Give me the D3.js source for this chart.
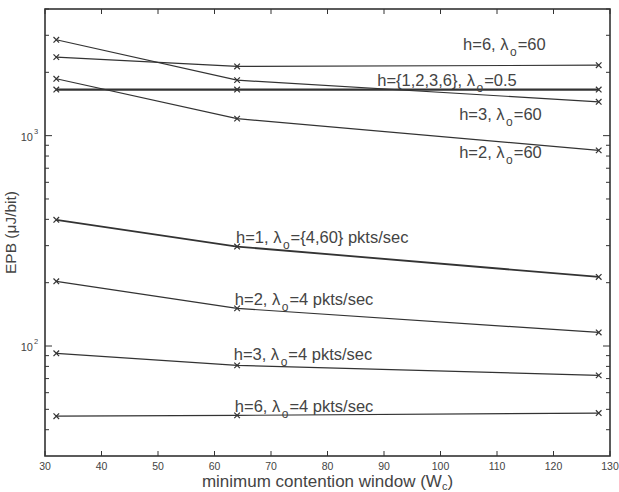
<!DOCTYPE html>
<html><head><meta charset="utf-8">
<script src="https://cdn.jsdelivr.net/npm/d3@7"></script>
<style>body{margin:0;background:#fff}svg{display:block}text{font-family:"Liberation Sans",Arial,sans-serif;fill:#444}</style>
</head><body><div id="chart"></div>
<script>
const xValues = [32, 64, 128];
const series = [
  {h: "h=3", lam: "=60", values: [2856, 1836, 1448], width: 1.2},
  {h: "h=6", lam: "=60", values: [2362, 2133, 2163], width: 1.2},
  {h: "h=2", lam: "=60", values: [1864, 1205, 851], width: 1.2},
  {h: "h={1,2,3,6}", lam: "=0.5", values: [1656, 1656, 1656], width: 2.2},
  {h: "h=1", lam: "={4,60} pkts/sec", values: [398, 297, 213], width: 1.8},
  {h: "h=2", lam: "=4 pkts/sec", values: [203, 151, 116], width: 1.2},
  {h: "h=3", lam: "=4 pkts/sec", values: [92.3, 80.9, 72.5], width: 1.2},
  {h: "h=6", lam: "=4 pkts/sec", values: [46.4, 46.8, 48], width: 1.2}
];
const labels = [
  {s: 1, x: 104.0, y: 2541},
  {s: 3, x: 88.8, y: 1730},
  {s: 0, x: 103.3, y: 1183},
  {s: 2, x: 103.3, y: 785},
  {s: 4, x: 63.8, y: 309},
  {s: 5, x: 63.6, y: 156},
  {s: 6, x: 63.4, y: 85.5},
  {s: 7, x: 63.6, y: 48.4}
];
const xTicks = [30, 40, 50, 60, 70, 80, 90, 100, 110, 120, 130];
const yMajor = [100, 1000];
const yMinor = [40, 50, 60, 70, 80, 90, 200, 300, 400, 500, 600, 700, 800, 900, 2000, 3000, 4000];

const W = 619, H = 492;
const m = {l: 45, r: 9, t: 9, b: 36};
const svg = d3.select("#chart").append("svg").attr("width", W).attr("height", H);
const x = d3.scaleLinear().domain([30, 130]).range([m.l, W - m.r]);
const y = d3.scaleLog().domain([30, 4000]).range([H - m.b, m.t]);
const ink = "#333";

// ticks
const g = svg.append("g").attr("stroke", ink).attr("stroke-width", 1);
xTicks.forEach(v => {
  g.append("line").attr("x1", x(v)).attr("x2", x(v)).attr("y1", y(30)).attr("y2", y(30) - 5);
  g.append("line").attr("x1", x(v)).attr("x2", x(v)).attr("y1", y(4000)).attr("y2", y(4000) + 5);
});
yMajor.forEach(v => {
  g.append("line").attr("x1", x(30)).attr("x2", x(30) + 7).attr("y1", y(v)).attr("y2", y(v));
  g.append("line").attr("x1", x(130)).attr("x2", x(130) - 7).attr("y1", y(v)).attr("y2", y(v));
});
yMinor.forEach(v => {
  g.append("line").attr("x1", x(30)).attr("x2", x(30) + 4).attr("y1", y(v)).attr("y2", y(v));
  g.append("line").attr("x1", x(130)).attr("x2", x(130) - 4).attr("y1", y(v)).attr("y2", y(v));
});

// tick labels
xTicks.forEach(v => {
  svg.append("text").attr("x", x(v)).attr("y", y(30) + 14).attr("text-anchor", "middle")
    .attr("font-size", 10.5).text(v);
});
yMajor.forEach(v => {
  svg.append("text").attr("x", x(30) - 12).attr("y", y(v) + 5).attr("text-anchor", "end")
    .attr("font-size", 11).text("10");
  svg.append("text").attr("x", x(30) - 11).attr("y", y(v) - 2).attr("font-size", 7.5).text(Math.round(Math.log10(v)));
});

// frame
svg.append("rect").attr("x", m.l).attr("y", m.t).attr("width", W - m.l - m.r).attr("height", H - m.t - m.b)
  .attr("fill", "none").attr("stroke", ink).attr("stroke-width", 1.6);

// lines
const line = d3.line().x((d, i) => x(xValues[i])).y(d => y(d));
series.forEach(s => {
  svg.append("path").attr("d", line(s.values)).attr("fill", "none").attr("stroke", ink).attr("stroke-width", s.width);
  s.values.forEach((v, i) => {
    const cx = x(xValues[i]), cy = y(v), r = 2.8;
    svg.append("path").attr("d", `M${cx-r},${cy-r}L${cx+r},${cy+r}M${cx-r},${cy+r}L${cx+r},${cy-r}`)
      .attr("stroke", ink).attr("stroke-width", 1.2);
  });
});

// annotations
labels.forEach(L => {
  const s = series[L.s];
  const t = svg.append("text").attr("x", x(L.x)).attr("y", y(L.y)).attr("font-size", 16.5);
  t.append("tspan").text(s.h + ", λ");
  t.append("tspan").attr("font-size", 12).attr("dy", 6).attr("dx", 1.5).text("o");
  t.append("tspan").attr("dy", -6).attr("dx", 1).text(s.lam);
});

// axis titles
const xt = svg.append("text").attr("x", (m.l + W - m.r) / 2).attr("y", H - 5).attr("text-anchor", "middle").attr("font-size", 17);
xt.append("tspan").text("minimum contention window (W");
xt.append("tspan").attr("font-size", 11).attr("dy", 3).text("c");
xt.append("tspan").attr("dy", -3).text(")");
svg.append("text").attr("transform", `translate(16,${(m.t + H - m.b) / 2}) rotate(-90)`)
  .attr("text-anchor", "middle").attr("font-size", 15.5).text("EPB (μJ/bit)");
</script></body></html>
